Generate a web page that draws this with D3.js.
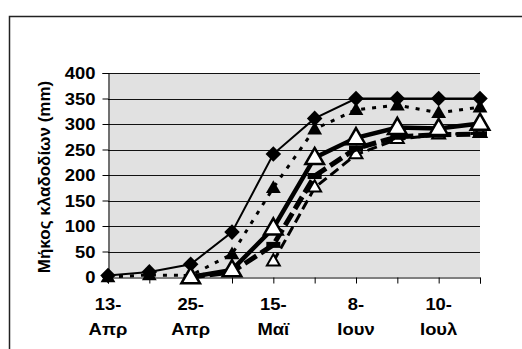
<!DOCTYPE html>
<html>
<head>
<meta charset="utf-8">
<script src="https://cdn.jsdelivr.net/npm/d3@7"></script>
<style>
  body { margin: 0; background: #fff; }
  text { font-family: 'Liberation Sans', Arial, sans-serif; font-weight: bold; fill: #000; }
</style>
</head>
<body>
<svg id="chart" width="522" height="349"></svg>
<script>
// sampling dates (only every second one is labelled on the axis)
const dates = ['13-Απρ', '19-Απρ', '25-Απρ', '5-Μαϊ', '15-Μαϊ', '25-Μαϊ', '8-Ιουν', '22-Ιουν', '10-Ιουλ', '25-Ιουλ'];
const yTicks = [0, 50, 100, 150, 200, 250, 300, 350, 400];

const seriesA = [3, 10, 25, 88, 241, 311, 350, 350, 350, 350];
const seriesB = [0, 4, 3, 45, 175, 290, 328, 337, 322, 333];
const seriesC = [null, null, 0, 14, 96, 234, 273, 293, 291, 301];
const seriesD = [null, null, 0, 10, 63, 198, 252, 275, 279, 280];
const seriesE = [null, null, null, null, 30, 175, 240, 270, 279, 282];

const svg = d3.select('#chart');
const plotLeft = 108;
const plotRight = 480;
const plotTop = 73;
const plotBottom = 277;

const xScale = d3.scalePoint()
  .domain(dates)
  .range([plotLeft, plotRight]);

const yScale = d3.scaleLinear()
  .domain([0, 400])
  .range([plotBottom, plotTop]);

// outer chart border (runs off the picture on the right and bottom)
svg.append('rect')
  .attr('x', 9.5)
  .attr('y', 16.5)
  .attr('width', 600)
  .attr('height', 400)
  .attr('fill', 'none')
  .attr('stroke', '#222')
  .attr('stroke-width', 1.5);

svg.append('rect')
  .attr('x', plotLeft)
  .attr('y', plotTop)
  .attr('width', plotRight - plotLeft)
  .attr('height', plotBottom - plotTop)
  .attr('fill', '#e1e1e1');

svg.append('g')
  .selectAll('line')
  .data(yTicks.slice(1))
  .enter()
  .append('line')
  .attr('x1', plotLeft)
  .attr('x2', plotRight)
  .attr('y1', d => Math.round(yScale(d)) + 0.5)
  .attr('y2', d => Math.round(yScale(d)) + 0.5)
  .attr('stroke', '#111')
  .attr('stroke-width', 1);

// y axis
const yAxis = svg.append('g')
  .attr('transform', `translate(${plotLeft + 0.5},0)`)
  .call(d3.axisLeft(yScale).tickValues(yTicks).tickSize(6).tickPadding(7));
yAxis.select('.domain').attr('stroke', '#000');
yAxis.selectAll('.tick line').attr('stroke', '#000');
yAxis.selectAll('.tick text')
  .attr('font-size', 16)
  .attr('font-family', 'Liberation Sans, Arial, sans-serif')
  .attr('x', 0)
  .attr('dy', '0.36em')
  .attr('transform', 'translate(-13,0) scale(1.15,1)');

// x axis
const xAxis = svg.append('g')
  .attr('transform', `translate(0,${plotBottom + 0.5})`)
  .call(d3.axisBottom(xScale).tickSize(6).tickFormat(''));
xAxis.select('.domain').attr('stroke', '#000');
xAxis.selectAll('.tick line').attr('stroke', '#000');

const xLabels = svg.append('g')
  .selectAll('g')
  .data(dates.filter((d, i) => i % 2 === 0))
  .enter()
  .append('g')
  .attr('transform', d => `translate(${xScale(d)},0)`);
xLabels.append('text')
  .attr('text-anchor', 'middle')
  .attr('font-size', 16)
  .attr('transform', 'translate(0,310) scale(1.15,1)')
  .text(d => d.split('-')[0] + '-');
xLabels.append('text')
  .attr('text-anchor', 'middle')
  .attr('font-size', 16)
  .attr('transform', 'translate(0,335) scale(1.15,1)')
  .text(d => d.split('-')[1]);

svg.append('text')
  .attr('transform', `translate(50,${(plotTop + plotBottom) / 2 + 2}) rotate(-90)`)
  .attr('text-anchor', 'middle')
  .attr('font-size', 17)
  .text('Μήκος κλαδοδίων (mm)');

const line = d3.line()
  .defined(d => d != null)
  .x((d, i) => xScale(dates[i]))
  .y(d => yScale(d));

const tri = (size) => d3.symbol().type(d3.symbolTriangle).size(size)();

const drawSeries = (values, lineStyle, marker) => {
  svg.append('path')
    .datum(values)
    .attr('fill', 'none')
    .attr('stroke', '#000')
    .attr('stroke-width', lineStyle.width)
    .attr('stroke-dasharray', lineStyle.dash)
    .attr('d', line);

  const pts = values
    .map((v, i) => ({ v, i }))
    .filter(d => d.v != null);

  const g = svg.append('g')
    .selectAll('g')
    .data(pts)
    .enter()
    .append('g')
    .attr('transform', d => `translate(${xScale(dates[d.i])},${yScale(d.v)})`);

  if (marker === 'diamond') {
    g.append('rect')
      .attr('x', -5.5)
      .attr('y', -5.5)
      .attr('width', 11)
      .attr('height', 11)
      .attr('transform', 'rotate(45)')
      .attr('fill', '#000');
  } else if (marker === 'blackTri') {
    g.append('path')
      .attr('d', tri(95))
      .attr('transform', 'translate(0,1)')
      .attr('fill', '#000');
  } else if (marker === 'bigTri') {
    g.append('path')
      .attr('d', tri(150))
      .attr('transform', 'translate(0,1)')
      .attr('fill', '#fff')
      .attr('stroke', '#000')
      .attr('stroke-width', 2.5);
  } else if (marker === 'smallTri') {
    g.append('path')
      .attr('d', tri(72))
      .attr('fill', '#fff')
      .attr('stroke', '#000')
      .attr('stroke-width', 2);
  } else if (marker === 'dash') {
    g.append('rect')
      .attr('x', -7)
      .attr('y', -3)
      .attr('width', 14)
      .attr('height', 6)
      .attr('fill', '#000');
  }
};

drawSeries(seriesE, { width: 3, dash: '10,5' }, 'smallTri');
drawSeries(seriesD, { width: 5, dash: '14,5' }, 'dash');
drawSeries(seriesB, { width: 3, dash: '4,7' }, 'blackTri');
drawSeries(seriesA, { width: 2, dash: null }, 'diamond');
drawSeries(seriesC, { width: 4.5, dash: null }, 'bigTri');
</script>
</body>
</html>
